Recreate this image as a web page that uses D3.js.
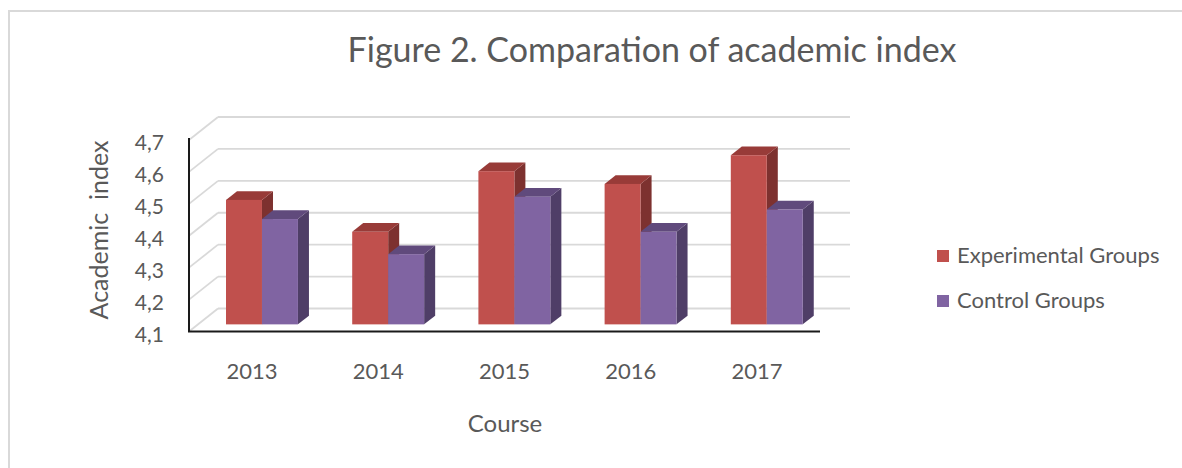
<!DOCTYPE html>
<html>
<head>
<meta charset="utf-8">
<script src="https://cdn.jsdelivr.net/npm/d3@7"></script>
<style>
  body { margin: 0; background: #fff; }
  svg { display: block; font-family: Lato, "Open Sans", sans-serif; }
</style>
</head>
<body>
<div class="main"></div>
<script>
// Data
const years = ['2013', '2014', '2015', '2016', '2017'];
const seriesNames = ['Experimental Groups', 'Control Groups'];
const experimental = [4.49, 4.39, 4.58, 4.54, 4.63];
const control = [4.43, 4.32, 4.50, 4.39, 4.46];
const yTicks = [4.1, 4.2, 4.3, 4.4, 4.5, 4.6, 4.7];
const title = 'Figure 2. Comparation of academic index';
const xTitle = 'Course';
const yTitle = 'Academic  index';

// Variables
const width = 1182,
      height = 468,
      plot = {left: 189, right: 820, top: 140, bottom: 331.5},
      depth = {x: 29, y: -23},      // full depth of the 3D box
      barDepth = [0.31, 0.69],      // bars sit in the middle of the box
      textColor = '#595959',
      gridColor = '#d9d9d9';

const colors = [
  {front: '#c0504d', top: '#983b38', side: '#7d312f'},
  {front: '#8064a2', top: '#604a7c', side: '#4f3e67'}
];

const rows = years.map((y, i) => ({year: y, values: [experimental[i], control[i]]}));

// Canvas
const svg = d3.select('.main')
              .append('svg')
              .attr('width', width)
              .attr('height', height);

// Outer chart border
svg.append('rect')
   .attr('x', 9).attr('y', 11)
   .attr('width', 1300).attr('height', 600)
   .attr('fill', 'none')
   .attr('stroke', gridColor)
   .attr('stroke-width', 2);

// Scales
const yScale = d3.scaleLinear()
                 .domain([4.1, 4.7])
                 .range([plot.bottom, plot.top]);

const xScale = d3.scaleBand()
                 .domain(years)
                 .range([plot.left, plot.right]);

const bw = xScale.bandwidth();
const xSub = d3.scaleBand()
               .domain(seriesNames)
               .range([bw * 0.222, bw * 0.792]);

// Gridlines: back wall and left side wall
const grid = svg.append('g').attr('class', 'grid');
grid.selectAll('line.back')
    .data(yTicks)
    .enter()
    .append('line')
    .attr('class', 'back')
    .attr('x1', plot.left + depth.x)
    .attr('x2', plot.right + depth.x + 1)
    .attr('y1', d => yScale(d) + depth.y)
    .attr('y2', d => yScale(d) + depth.y)
    .attr('stroke', gridColor)
    .attr('stroke-width', 1.8);

grid.selectAll('line.side')
    .data(yTicks)
    .enter()
    .append('line')
    .attr('class', 'side')
    .attr('x1', plot.left)
    .attr('x2', plot.left + depth.x)
    .attr('y1', d => yScale(d))
    .attr('y2', d => yScale(d) + depth.y)
    .attr('stroke', gridColor)
    .attr('stroke-width', 1.8);

// Bars (3D boxes)
const d0 = barDepth[0], d1 = barDepth[1];
const ox = d0 * depth.x, oy = d0 * depth.y;
const ddx = (d1 - d0) * depth.x, ddy = (d1 - d0) * depth.y;

const groups = svg.selectAll('g.year')
                  .data(rows)
                  .enter()
                  .append('g')
                  .attr('class', 'year')
                  .attr('transform', d => `translate(${xScale(d.year) + ox}, ${oy})`);

seriesNames.forEach((name, s) => {
  const bar = groups.append('g').attr('class', 'bar');
  const x0 = xSub(name), w = xSub.bandwidth();
  const yb = yScale(4.1);

  bar.append('polygon')
     .attr('points', d => {
       const yt = yScale(d.values[s]);
       return [[x0 + w, yt], [x0 + w + ddx, yt + ddy], [x0 + w + ddx, yb + ddy], [x0 + w, yb]].join(' ');
     })
     .attr('fill', colors[s].side);

  bar.append('polygon')
     .attr('points', d => {
       const yt = yScale(d.values[s]);
       return [[x0, yt], [x0 + ddx, yt + ddy], [x0 + w + ddx, yt + ddy], [x0 + w, yt]].join(' ');
     })
     .attr('fill', colors[s].top);

  bar.append('rect')
     .attr('x', x0)
     .attr('y', d => yScale(d.values[s]))
     .attr('width', w)
     .attr('height', d => yb - yScale(d.values[s]))
     .attr('fill', colors[s].front);
});

// Axes
const yAxis = svg.append('g')
   .attr('transform', `translate(${plot.left}, 2)`)
   .call(d3.axisLeft(yScale).tickValues(yTicks).tickSize(0).tickPadding(25)
           .tickFormat(d => d3.format('.1f')(d).replace('.', ',')));
yAxis.select('.domain').remove();
yAxis.selectAll('text')
     .attr('dy', '0.36em')
     .style('font-size', '21px')
     .style('font-family', 'Lato, sans-serif')
     .attr('fill', textColor);

const xAxis = svg.append('g')
   .attr('transform', `translate(0, ${plot.bottom})`)
   .call(d3.axisBottom(xScale).tickSize(0).tickPadding(32));
xAxis.select('.domain').remove();
xAxis.selectAll('text')
     .style('font-size', '22px')
     .style('font-family', 'Lato, sans-serif')
     .attr('fill', textColor);

// Front axis lines
svg.append('path')
   .attr('d', `M${plot.left},${plot.top - 2}V${plot.bottom}H${plot.right}`)
   .attr('fill', 'none')
   .attr('stroke', '#1a1a1a')
   .attr('stroke-width', 2);

// Titles
svg.append('text')
   .attr('x', 652).attr('y', 62)
   .attr('text-anchor', 'middle')
   .attr('fill', textColor)
   .style('font-size', '34px')
   .text(title);

svg.append('text')
   .attr('x', 505).attr('y', 432)
   .attr('text-anchor', 'middle')
   .attr('fill', textColor)
   .style('font-size', '24px')
   .text(xTitle);

svg.append('text')
   .attr('transform', 'translate(108, 230) rotate(-90)')
   .attr('text-anchor', 'middle')
   .attr('fill', textColor)
   .style('font-size', '25px')
   .style('white-space', 'pre')
   .text(yTitle);

// Legend
const legend = svg.selectAll('g.legend')
                  .data(seriesNames)
                  .enter()
                  .append('g')
                  .attr('class', 'legend')
                  .attr('transform', (d, i) => `translate(937, ${250 + i * 45})`);
legend.append('rect')
      .attr('width', 12).attr('height', 12)
      .attr('fill', (d, i) => colors[i].front);
legend.append('text')
      .attr('x', 20).attr('y', 13)
      .attr('fill', textColor)
      .style('font-size', '22px')
      .text(d => d);
</script>
</body>
</html>
